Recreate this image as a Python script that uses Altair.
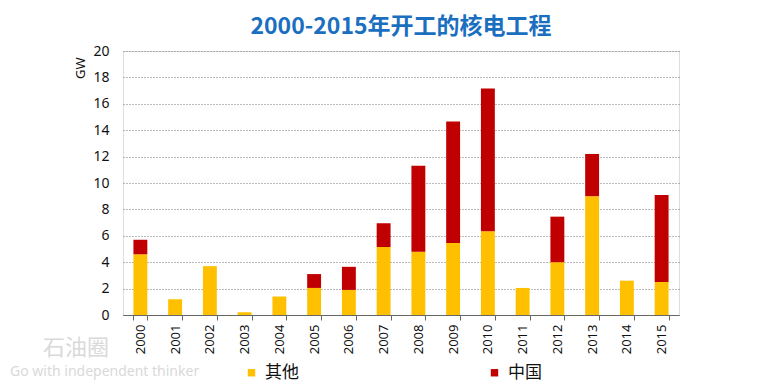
import altair as alt
import pandas as pd

years = [str(y) for y in range(2000, 2016)]
other = [4.6, 1.2, 3.7, 0.2, 1.4, 2.05, 1.9, 5.15, 4.8, 5.45, 6.35, 2.05, 4.0, 9.0, 2.6, 2.5]
china = [1.1, 0, 0, 0, 0, 1.05, 1.75, 1.8, 6.5, 9.2, 10.8, 0, 3.45, 3.2, 0, 6.6]
series = ["其他", "中国"]
colors = ["#FFC000", "#C00000"]

rows = []
for i, y in enumerate(years):
    rows.append({"year": y, "series": series[0], "ord": 0, "value": other[i]})
    rows.append({"year": y, "series": series[1], "ord": 1, "value": china[i]})
df = pd.DataFrame(rows)

FONT = "Noto Sans"
CJK = "Noto Sans CJK SC"

bars = alt.Chart(df).mark_bar().encode(
    x=alt.X("year:N", sort=years,
            scale=alt.Scale(paddingInner=0.6, paddingOuter=0.3),
            axis=alt.Axis(title=None, labelAngle=270, labelFontSize=13, labelFont=FONT,
                          labelColor="#111", tickBand="extent", tickSize=5,
                          tickColor="#666", domainColor="#666", labelPadding=4)),
    y=alt.Y("value:Q", stack="zero",
            scale=alt.Scale(domain=[0, 20], nice=False),
            axis=alt.Axis(values=list(range(0, 21, 2)), title="GW", titleAngle=270,
                          titleX=-43, titleY=6, titleAlign="right", titleBaseline="middle",
                          titleFontSize=13, titleFontWeight="normal", titleFont=FONT,
                          titleColor="#111",
                          labelFontSize=14, labelFont=FONT, labelColor="#111",
                          tickSize=0, labelPadding=14, domain=False,
                          gridColor="#777777", gridDash=[1, 2], gridWidth=1)),
    color=alt.Color("series:N", scale=alt.Scale(domain=series, range=colors),
                    legend=alt.Legend(title=None, orient="none", direction="horizontal",
                                      legendX=120, legendY=313, symbolType="square",
                                      symbolSize=55, symbolStrokeWidth=0,
                                      labelFontSize=17, labelFont=CJK, labelColor="#111",
                                      columnPadding=187, labelOffset=5)),
    order=alt.Order("ord:Q", sort="ascending"),
)

wm = pd.DataFrame({"t": ["石油圈"]})
wm1 = alt.Chart(wm).mark_text(fontSize=22, font=CJK, color="#d9d9d9", align="left",
                              baseline="middle").encode(
    text="t:N", x=alt.value(-80), y=alt.value(297))
wm2 = alt.Chart(pd.DataFrame({"t": ["Go with independent thinker"]})).mark_text(
    fontSize=14, font=FONT, color="#d9d9d9", align="left", baseline="middle").encode(
    text="t:N", x=alt.value(-113), y=alt.value(321))

chart = alt.layer(bars, wm1, wm2).properties(
    width=556, height=264,
    title=alt.TitleParams("2000-2015年开工的核电工程", font=CJK, fontSize=23,
                          fontWeight="bold", color="#1A6FC0", anchor="middle", offset=5),
    padding={"left": 115, "top": 43, "right": 88, "bottom": 72},
    autosize=alt.AutoSizeParams(type="none"),
).configure_view(stroke=None).configure(background="white")

chart.save("out.html", embed_options={"renderer": "svg", "actions": False})
